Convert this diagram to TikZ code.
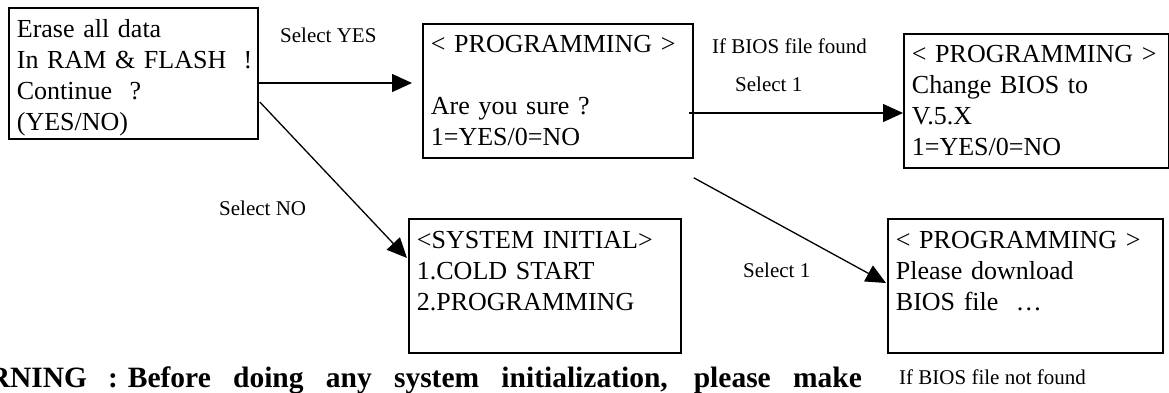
\documentclass[tikz,border=0pt]{standalone}
\usepackage{fontspec}
\setmainfont{Liberation Serif}
\usetikzlibrary{arrows.meta,calc}
\tikzset{
  box/.style={draw, line width=1.8pt, anchor=north west, align=left, inner xsep=8pt, inner ysep=0pt,
    font=\fontsize{26}{31}\selectfont},
  lbl/.style={font=\fontsize{21}{24}\selectfont, inner sep=0pt, anchor=base west},
  arr/.style={line width=1.3pt, -{Triangle[length=20pt,width=18pt]}},
  warn/.style={font=\bfseries\fontsize{29.5}{32}\selectfont, inner sep=0pt, anchor=base west}
}
\begin{document}
\begin{tikzpicture}[x=1pt,y=-1pt]
\useasboundingbox (0,0) rectangle (1169,392);
% boxes
\node[box, minimum width=249pt, minimum height=131pt, text width=233pt] (b1) at (8,7)
  {\rule{0pt}{26pt}\mbox{Erase all data}\\\mbox{In RAM \& FLASH \ !}\\\mbox{Continue \ ?}\\\mbox{(YES/NO)}};
\node[box, minimum width=270pt, minimum height=134pt, text width=254pt] (b2) at (422,23)
  {\mbox{< PROGRAMMING >}\\\mbox{}\\\mbox{Are you sure ?}\\\mbox{1=YES/0=NO}};
\node[box, minimum width=265pt, minimum height=134pt, text width=249pt] (b3) at (903,33)
  {\mbox{< PROGRAMMING >}\\\mbox{Change BIOS to}\\\mbox{V.5.X}\\\mbox{1=YES/0=NO}};
\node[box, minimum width=272pt, minimum height=134pt, text width=256pt] (b4) at (408,218)
  {\mbox{<SYSTEM INITIAL>}\\\mbox{1.COLD START}\\\mbox{2.PROGRAMMING}\\\mbox{}};
\node[box, minimum width=275pt, minimum height=134pt, text width=259pt] (b5) at (887,218)
  {\mbox{< PROGRAMMING >}\\\mbox{Please download}\\\mbox{BIOS file \ \dots}\\\mbox{}};
% labels
\node[lbl] (lyes) at (280,42) {Select YES};
\node[lbl] (lfound) at (712,53) {If BIOS file found};
\node[lbl] (lsel1a) at (735,91) {Select 1};
\node[lbl] (lno) at (219,215) {Select NO};
\node[lbl] (lsel1b) at (743,277) {Select 1};
\node[lbl] (lnotfound) at (899,384) {If BIOS file not found};
\node[warn] (warn) at (-59,387)
  {WARNING\hspace{21pt}:\hspace{10pt}\makebox[734pt][s]{Before doing any system initialization, please make}};
% connector end points
\coordinate (yesA) at ($(b1.north east)+(0,76)$);
\coordinate (noA) at ($(b1.north east)+(1,95)$);
\coordinate (noB) at ($(b4.north west)+(-1,40)$);
\coordinate (s1A) at ($(b2.north east)+(-5,90)$);
\coordinate (s2A) at ($(b2.south east)+(0,19)$);
\coordinate (s2B) at ($(b5.north west)+(-1,65)$);
% connectors
\draw[arr, shorten >=10pt] (yesA) -- (yesA -| b2.west);
\draw[arr] (noA) -- (noB);
\draw[arr] (s1A) -- (s1A -| b3.west);
\draw[arr] (s2A) -- (s2B);
\end{tikzpicture}
\end{document}
